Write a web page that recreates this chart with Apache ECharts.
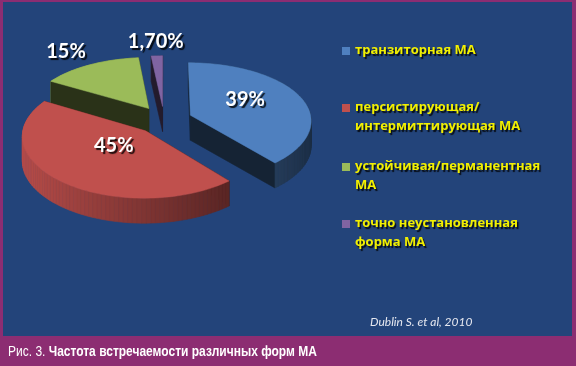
<!DOCTYPE html>
<html><head><meta charset="utf-8">
<script src="https://cdn.jsdelivr.net/npm/echarts/dist/echarts.min.js"></script>
<style>html,body{margin:0;padding:0;background:#8c2d72;}#c{width:576px;height:366px;}</style>
</head><body><div id="c"></div>
<script>
// ---- data ----
const categories = ['транзиторная МА', 'персистирующая/\nинтермиттирующая МА', 'устойчивая/перманентная\nМА', 'точно неустановленная\nформа МА'];
const values = [39, 45, 15, 1.7];
const valueLabels = ['39%', '45%', '15%', '1,70%'];
const source = 'Dublin S. et al, 2010';
const captionPrefix = 'Рис. 3. ';
const captionTitle = 'Частота встречаемости различных форм МА';

// ---- style ----
const sliceColors = ['#4f80bf', '#c0504d', '#9bbb59', '#8064a2'];
const CX = 164, CY = 120, RX = 121, RY = 59.3, PX = 0.08, PY = 0.1, DEPTH = 25, EXPLODE = 0.234;

function shade(hex, k) {
  const n = parseInt(hex.slice(1), 16);
  const r = Math.round(((n >> 16) & 255) * k), g = Math.round(((n >> 8) & 255) * k), b = Math.round((n & 255) * k);
  return 'rgb(' + Math.min(255, r) + ',' + Math.min(255, g) + ',' + Math.min(255, b) + ')';
}
function proj(u, v, z) {
  return [CX + u * RX * (1 + PX * v), CY + v * RY * (1 + PY * v) + z];
}
const total = values.reduce((a, b) => a + b, 0);
const starts = [];
{ let c = 0; values.forEach(v => { starts.push(c / total * 360); c += v; }); }
const rad = d => d * Math.PI / 180;
// draw order: back to front by explosion offset
const order = values.map((v, i) => {
  const mid = starts[i] + v / total * 180;
  return { i, ov: -Math.cos(rad(mid)) * EXPLODE };
}).sort((a, b) => a.ov - b.ov).map(o => o.i);

function renderItem(params, api) {
  const i = params.dataIndex;
  const val = api.value(0);
  const a0 = starts[i], a1 = a0 + val / total * 360, mid = (a0 + a1) / 2;
  const ou = Math.sin(rad(mid)) * EXPLODE, ov = -Math.cos(rad(mid)) * EXPLODE;
  const color = sliceColors[i];
  const rank = order.indexOf(i);
  const base = rank * 1000;
  const n = Math.max(2, Math.ceil((a1 - a0) / 2));
  const arc = [];
  for (let j = 0; j <= n; j++) {
    const t = a0 + (a1 - a0) * j / n;
    arc.push({ t, u: ou + Math.sin(rad(t)), v: ov - Math.cos(rad(t)) });
  }
  const faces = [];
  [[a0, a0 - 90, arc[0]], [a1, a1 + 90, arc[n]]].forEach(([a, na, p]) => {
    faces.push({
      facing: -Math.cos(rad(na)),
      pts: [proj(ou, ov, 0), proj(p.u, p.v, 0), proj(p.u, p.v, DEPTH), proj(ou, ov, DEPTH)],
      fill: shade(color, 0.27)
    });
  });
  for (let j = 0; j < n; j++) {
    const p = arc[j], q = arc[j + 1];
    const tm = (p.t + q.t) / 2;
    const k = 0.66 - 0.3 * Math.sin(rad(tm));
    faces.push({
      facing: -Math.cos(rad(tm)),
      pts: [proj(p.u, p.v, 0), proj(q.u, q.v, 0), proj(q.u, q.v, DEPTH), proj(p.u, p.v, DEPTH)],
      fill: shade(color, k)
    });
  }
  faces.sort((a, b) => a.facing - b.facing);
  const children = faces.map((f, idx) => ({
    type: 'polygon', z2: base + idx + 1,
    shape: { points: f.pts },
    style: { fill: f.fill, stroke: f.fill, lineWidth: 0.6 }
  }));
  const topPts = [proj(ou, ov, 0)].concat(arc.map(p => proj(p.u, p.v, 0)));
  children.push({
    type: 'polygon', z2: base + 900,
    shape: { points: topPts },
    style: { fill: color, stroke: color, lineWidth: 0.5 }
  });
  // label
  const pct = val / total;
  const inside = pct > 0.2;
  const f = inside ? 0.45 : 1.22;
  const lu = ou + Math.sin(rad(mid)) * f, lv = ov - Math.cos(rad(mid)) * f;
  const lp = proj(lu, lv, 0);
  let align = 'center', dx = 0, dy = -5;
  if (inside) { dx = 5; dy = -7; }
  else { align = lu < -0.2 ? 'right' : (lu > 0.2 ? 'left' : 'center'); if (align === 'right') dx = 8; }
  children.push({
    type: 'text', z2: 10000, x: lp[0] + dx, y: lp[1] + dy,
    style: {
      text: valueLabels[i], fill: '#ffffff', font: 'bold 20px Lato, "Open Sans", sans-serif',
      align: align, textAlign: align, verticalAlign: 'middle', textVerticalAlign: 'middle',
      textShadowColor: 'rgba(0,0,0,0.85)', textShadowOffsetX: 2, textShadowOffsetY: 2, textShadowBlur: 1
    }
  });
  return { type: 'group', children };
}

// legend (graphic)
const legendTops = [51, 108, 167, 224];
const legendEls = [];
categories.forEach((name, i) => {
  legendEls.push({ type: 'rect', left: 342, top: legendTops[i] - 4, shape: { width: 8, height: 8 }, style: { fill: sliceColors[i] }, z: 10 });
  legendEls.push({
    type: 'text', x: 355, y: legendTops[i] - 10, z: 10,
    style: {
      text: name, fill: '#f2f000', font: 'bold 13px "Open Sans", sans-serif', lineHeight: 19,
      textShadowColor: 'rgba(0,0,0,0.8)', textShadowOffsetX: 1.5, textShadowOffsetY: 1.5, textShadowBlur: 1
    }
  });
});

const chart = echarts.init(document.getElementById('c'), null, { renderer: 'canvas' });
chart.setOption({
  animation: false,
  backgroundColor: '#8c2d72',
  graphic: [
    { type: 'rect', shape: { x: 3, y: 2, width: 569, height: 334 }, style: { fill: '#23447a' }, z: -10 },
    ...legendEls,
    {
      type: 'text', x: 370, y: 322, z: 10,
      style: { text: source, fill: '#e6e8f0', font: 'italic 12px Lato, "Open Sans", sans-serif', verticalAlign: 'middle', textVerticalAlign: 'middle' }
    },
    {
      type: 'text', x: 8, y: 352, z: 10, scaleX: 0.8,
      style: {
        text: '{a|' + captionPrefix + '}{b|' + captionTitle + '}',
        verticalAlign: 'middle', textVerticalAlign: 'middle',
        rich: {
          a: { fill: '#ffffff', color: '#ffffff', fontFamily: '"Liberation Sans", Arial, sans-serif', fontSize: 15 },
          b: { fill: '#ffffff', color: '#ffffff', fontFamily: '"Liberation Sans", Arial, sans-serif', fontSize: 15, fontWeight: 'bold' }
        }
      }
    }
  ],
  series: [{
    type: 'custom',
    coordinateSystem: 'none',
    renderItem: renderItem,
    data: values.map((v, i) => ({ value: [v], name: categories[i] }))
  }]
});
</script></body></html>
